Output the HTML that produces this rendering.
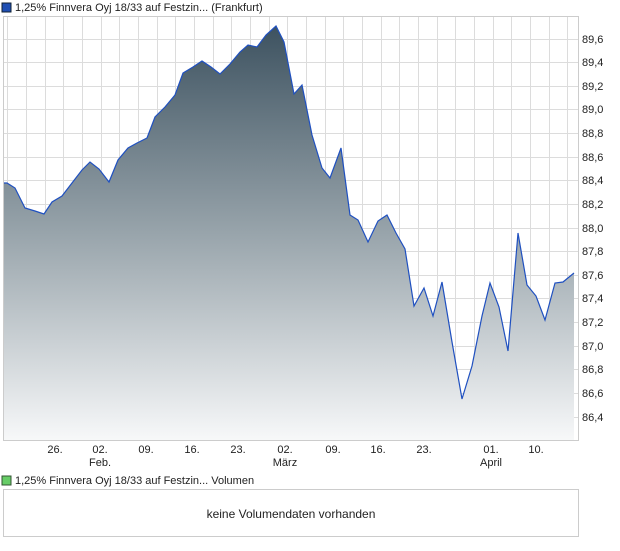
<!DOCTYPE html>
<html><head><style>
body{margin:0;background:#fff;font-family:"Liberation Sans",sans-serif;}
</style></head><body>
<svg width="620" height="546" xmlns="http://www.w3.org/2000/svg" font-family="Liberation Sans, sans-serif">
<defs>
<linearGradient id="g" x1="0" y1="26" x2="0" y2="440" gradientUnits="userSpaceOnUse">
<stop offset="0" stop-color="#3d5260"/><stop offset="0.5" stop-color="#98a4ab"/><stop offset="1" stop-color="#f7f8f9"/>
</linearGradient>
</defs>
<rect x="2" y="3" width="9" height="9" fill="#1f4fb4" stroke="#123" stroke-width="1"/>
<text x="15" y="11" font-size="11" fill="#222">1,25% Finnvera Oyj 18/33 auf Festzin... (Frankfurt)</text>
<rect x="3.5" y="16.5" width="575" height="424" fill="#fff" stroke="#ccc"/>
<g stroke="#dcdcdc" stroke-width="1">
<path d="M7.5 17V440M26.5 17V440M45.5 17V440M63.5 17V440M82.5 17V440M101.5 17V440M119.5 17V440M138.5 17V440M157.5 17V440M175.5 17V440M194.5 17V440M213.5 17V440M231.5 17V440M250.5 17V440M269.5 17V440M287.5 17V440M306.5 17V440M325.5 17V440M343.5 17V440M362.5 17V440M381.5 17V440M399.5 17V440M418.5 17V440M437.5 17V440M455.5 17V440M474.5 17V440M493.5 17V440M511.5 17V440M530.5 17V440M549.5 17V440M567.5 17V440"/>
<path d="M4 39.5H578M4 62.5H578M4 86.5H578M4 109.5H578M4 133.5H578M4 157.5H578M4 180.5H578M4 204.5H578M4 228.5H578M4 251.5H578M4 275.5H578M4 298.5H578M4 322.5H578M4 346.5H578M4 369.5H578M4 393.5H578M4 417.5H578"/>
</g>
<path d="M4 183 L7 183 L15 188 L25 208 L35 211 L44 214 L52 202 L62 196 L72 183 L82 170 L90 162 L99 169 L109 182 L118 160 L128 148 L137 143 L147 138 L155 117 L165 107 L175 95 L183 73 L193 67 L202 61 L211 67 L220 74 L230 64 L240 52 L248 45 L257 47 L266 35 L276 26 L284 42 L294 94 L302 85 L312 135 L322 168 L330 178 L341 148 L350 215 L358 220 L368 242 L378 221 L387 215 L396 233 L405 249 L414 306 L424 288 L433 316 L442 282 L452 342 L462 399 L472 366 L482 316 L490 283 L499 307 L508 351 L518 233 L527 285 L536 296 L545 320 L555 283 L563 282 L574 273 L574 440 L4 440Z" fill="url(#g)"/>
<path d="M4 183 L7 183 L15 188 L25 208 L35 211 L44 214 L52 202 L62 196 L72 183 L82 170 L90 162 L99 169 L109 182 L118 160 L128 148 L137 143 L147 138 L155 117 L165 107 L175 95 L183 73 L193 67 L202 61 L211 67 L220 74 L230 64 L240 52 L248 45 L257 47 L266 35 L276 26 L284 42 L294 94 L302 85 L312 135 L322 168 L330 178 L341 148 L350 215 L358 220 L368 242 L378 221 L387 215 L396 233 L405 249 L414 306 L424 288 L433 316 L442 282 L452 342 L462 399 L472 366 L482 316 L490 283 L499 307 L508 351 L518 233 L527 285 L536 296 L545 320 L555 283 L563 282 L574 273" fill="none" stroke="#1f50c0" stroke-width="1.2"/>
<g font-size="11" fill="#222">
<text x="582" y="43">89,6</text><text x="582" y="66">89,4</text><text x="582" y="90">89,2</text><text x="582" y="113">89,0</text><text x="582" y="137">88,8</text><text x="582" y="161">88,6</text><text x="582" y="184">88,4</text><text x="582" y="208">88,2</text><text x="582" y="232">88,0</text><text x="582" y="255">87,8</text><text x="582" y="279">87,6</text><text x="582" y="302">87,4</text><text x="582" y="326">87,2</text><text x="582" y="350">87,0</text><text x="582" y="373">86,8</text><text x="582" y="397">86,6</text><text x="582" y="421">86,4</text>
</g>
<g font-size="11" fill="#222" text-anchor="middle">
<text x="55" y="453">26.</text><text x="100" y="453">02.</text><text x="146" y="453">09.</text><text x="192" y="453">16.</text><text x="238" y="453">23.</text><text x="285" y="453">02.</text><text x="333" y="453">09.</text><text x="378" y="453">16.</text><text x="424" y="453">23.</text><text x="491" y="453">01.</text><text x="536" y="453">10.</text>
<text x="100" y="466">Feb.</text><text x="285" y="466">März</text><text x="491" y="466">April</text>
</g>
<rect x="2" y="476" width="9" height="9" fill="#6c6" stroke="#353" stroke-width="1"/>
<text x="15" y="484" font-size="11" fill="#222">1,25% Finnvera Oyj 18/33 auf Festzin... Volumen</text>
<rect x="3.5" y="489.5" width="575" height="47" fill="#fff" stroke="#ccc"/>
<text x="291" y="518" font-size="12" fill="#222" text-anchor="middle">keine Volumendaten vorhanden</text>
</svg>
</body></html>
